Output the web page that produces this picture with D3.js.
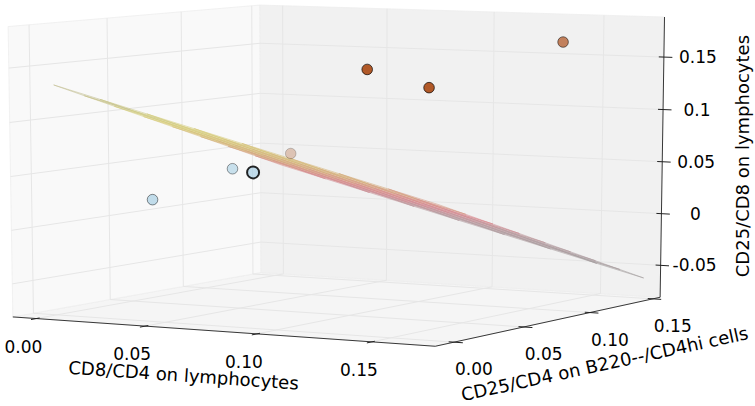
<!doctype html>
<html>
<head>
<meta charset="utf-8">
<title>3d regression</title>
<script src="https://cdn.jsdelivr.net/npm/d3@7"></script>
<style>
  body { margin: 0; background: #fff; }
  text { font-family: "DejaVu Sans", sans-serif; fill: #000; }
</style>
</head>
<body>
<script>
// one entry per sample
const cd8cd4 = [0.018, 0.032, 0.053, 0.009, 0.132, 0.153, 0.161];      // x
const cd25cd4 = [0.038, 0.072, 0.055, 0.148, 0.012, 0.021, 0.105];     // y
const cd25cd8 = [0.021, 0.045, 0.047, 0.043, 0.156, 0.140, 0.170];     // z
const group = [0, 0, 0, 1, 1, 1, 1];
const marked = [false, false, true, false, false, false, false];

// fitted plane z = a + b*x + c*y
const planeCoef = [0.1334, -0.5418, -0.6723];
const planeX = [0, 0.17];
const planeY = [0, 0.155];

const xLim = [-0.011, 0.177];
const yLim = [-0.013, 0.156];
const zLim = [-0.081, 0.188];
const xTicks = [0, 0.05, 0.10, 0.15];
const yTicks = [0, 0.05, 0.10, 0.15];
const zTicks = [-0.05, 0, 0.05, 0.1, 0.15];
const xTickLabels = ["0.00", "0.05", "0.10", "0.15"];
const yTickLabels = ["0.00", "0.05", "0.10", "0.15"];
const zTickLabels = ["-0.05", "0", "0.05", "0.1", "0.15"];

const w = 755, h = 406;
const svg = d3.select("body").append("svg").attr("width", w).attr("height", h);

// data -> box coords
const bx = d3.scaleLinear().domain(xLim).range([-0.5, 0.5]);
const by = d3.scaleLinear().domain(yLim).range([-0.5, 0.5]);
const bz = d3.scaleLinear().domain(zLim).range([-0.5, 0.5]);

// camera
const azim = -60 * Math.PI / 180, elev = 8 * Math.PI / 180, dist = 10;
const ca = Math.cos(azim), sa = Math.sin(azim), ce = Math.cos(elev), se = Math.sin(elev);
const sx = d3.scaleLinear().domain([-1, 1]).range([342.3 - 477, 342.3 + 477]);
const sy = d3.scaleLinear().domain([-1, 1]).range([165.3 + 288, 165.3 - 288]);

function project(x, y, z) {
  const u = bx(x), v = by(y), t = bz(z);
  const px = -sa * u + ca * v;
  const py = -se * ca * u - se * sa * v + ce * t;
  const pz = ce * ca * u + ce * sa * v + se * t;
  const k = dist / (dist - pz);
  return [sx(px * k), sy(py * k), pz];
}

const [x0, x1] = xLim, [y0, y1] = yLim, [z0, z1] = zLim;
const line = d3.line();

// panes
const panes = [
  { pts: [[x0, y0, z0], [x1, y0, z0], [x1, y1, z0], [x0, y1, z0]], fill: "#f5f5f5" },
  { pts: [[x0, y0, z0], [x0, y1, z0], [x0, y1, z1], [x0, y0, z1]], fill: "#f9f9f9" },
  { pts: [[x0, y1, z0], [x1, y1, z0], [x1, y1, z1], [x0, y1, z1]], fill: "#f1f1f1" }
];
svg.selectAll("path.pane").data(panes).enter().append("path")
  .attr("class", "pane")
  .attr("d", d => line(d.pts.map(p => project(...p))) + "Z")
  .attr("fill", d => d.fill)
  .attr("stroke", "#eeeeee")
  .attr("stroke-width", 0.8);

// gridlines
const grid = [];
xTicks.forEach(t => grid.push([[t, y0, z0], [t, y1, z0], [t, y1, z1]]));
yTicks.forEach(t => grid.push([[x1, t, z0], [x0, t, z0], [x0, t, z1]]));
zTicks.forEach(t => grid.push([[x0, y0, t], [x0, y1, t], [x1, y1, t]]));
svg.selectAll("path.grid").data(grid).enter().append("path")
  .attr("class", "grid")
  .attr("d", d => line(d.map(p => project(...p).slice(0, 2))))
  .attr("fill", "none")
  .attr("stroke", "#e6e6e6")
  .attr("stroke-width", 1);

// axis lines
const axes = [
  [[x0, y0, z0], [x1, y0, z0]],
  [[x1, y0, z0], [x1, y1, z0]],
  [[x1, y1, z0], [x1, y1, z1]]
];
svg.selectAll("path.axis").data(axes).enter().append("path")
  .attr("class", "axis")
  .attr("d", d => line(d.map(p => project(...p).slice(0, 2))))
  .attr("stroke", "#222")
  .attr("stroke-width", 0.9);

// tick marks
const du = (x1 - x0), dv = (y1 - y0);
const tickSegs = [];
xTicks.forEach(t => tickSegs.push([[t, y0 + 0.012 * dv, z0], [t, y0 - 0.02 * dv, z0]]));
yTicks.forEach(t => tickSegs.push([[x1 - 0.012 * du, t, z0], [x1 + 0.02 * du, t, z0]]));
zTicks.forEach(t => tickSegs.push([[x1 - 0.012 * du, y1, t], [x1 + 0.02 * du, y1, t]]));
svg.selectAll("path.tick").data(tickSegs).enter().append("path")
  .attr("class", "tick")
  .attr("d", d => line(d.map(p => project(...p).slice(0, 2))))
  .attr("stroke", "#222")
  .attr("stroke-width", 1);

// tick labels
const tickFont = 17;
svg.selectAll("text.xt").data(xTicks).enter().append("text")
  .attr("class", "xt")
  .attr("x", d => project(d, y0, z0)[0] - 13)
  .attr("y", d => project(d, y0, z0)[1] + 28)
  .attr("text-anchor", "middle").attr("dominant-baseline", "central")
  .style("font-size", tickFont + "px")
  .text((d, i) => xTickLabels[i]);
svg.selectAll("text.yt").data(yTicks).enter().append("text")
  .attr("class", "yt")
  .attr("x", d => project(x1, d, z0)[0] + 20)
  .attr("y", d => project(x1, d, z0)[1] + 27)
  .attr("text-anchor", "middle").attr("dominant-baseline", "central")
  .style("font-size", tickFont + "px")
  .text((d, i) => yTickLabels[i]);
svg.selectAll("text.zt").data(zTicks).enter().append("text")
  .attr("class", "zt")
  .attr("x", d => project(x1, y1, d)[0] + 34)
  .attr("y", d => project(x1, y1, d)[1])
  .attr("text-anchor", "middle").attr("dominant-baseline", "central")
  .style("font-size", tickFont + "px")
  .text((d, i) => zTickLabels[i]);

// axis titles
function angleOf(a, b) {
  const p = project(...a), q = project(...b);
  return Math.atan2(q[1] - p[1], q[0] - p[0]) * 180 / Math.PI;
}
const titleFont = 18;
const xm = project((x0 + x1) / 2, y0, z0);
svg.append("text")
  .attr("transform", `translate(${xm[0] - 35},${xm[1] + 44}) rotate(${angleOf([x0, y0, z0], [x1, y0, z0])})`)
  .attr("text-anchor", "middle").attr("dominant-baseline", "central")
  .style("font-size", titleFont + "px")
  .text("CD8/CD4 on lymphocytes");
const ym = project(x1, (y0 + y1) / 2, z0);
svg.append("text")
  .attr("transform", `translate(${ym[0] + 52},${ym[1] + 43}) rotate(${angleOf([x1, y0, z0], [x1, y1, z0])})`)
  .attr("text-anchor", "middle").attr("dominant-baseline", "central")
  .style("font-size", titleFont + "px")
  .text("CD25/CD4 on B220--/CD4hi cells");
const zm = project(x1, y1, (z0 + z1) / 2);
svg.append("text")
  .attr("transform", `translate(${zm[0] + 80},${zm[1] - 2}) rotate(-90)`)
  .attr("text-anchor", "middle").attr("dominant-baseline", "central")
  .style("font-size", titleFont + "px")
  .text("CD25/CD8 on lymphocytes");

// regression plane as a grid of facets
const n = 8;
const gx = d3.scaleLinear().domain([0, n]).range(planeX);
const gy = d3.scaleLinear().domain([0, n]).range(planeY);
const planeZ = (x, y) => planeCoef[0] + planeCoef[1] * x + planeCoef[2] * y;
const zLo = planeZ(planeX[1], planeY[1]), zHi = planeZ(planeX[0], planeY[0]);
const planeColor = d3.scaleLinear()
  .domain([0, 0.3, 0.45, 0.6, 0.8, 1].map(f => zLo + f * (zHi - zLo)))
  .range(["#9c9c9c", "#b89ca0", "#d9868e", "#d4ae7a", "#d8d27c", "#b8b59c"]);
const facets = [];
for (let i = 0; i < n; i++) {
  for (let j = 0; j < n; j++) {
    const cs = [[gx(i), gy(j)], [gx(i + 1), gy(j)], [gx(i + 1), gy(j + 1)], [gx(i), gy(j + 1)]];
    const pts = cs.map(c => project(c[0], c[1], planeZ(c[0], c[1])));
    facets.push({
      pts: pts.map(p => p.slice(0, 2)),
      depth: d3.mean(pts, p => p[2]),
      zc: d3.mean(cs, c => planeZ(c[0], c[1]))
    });
  }
}
facets.sort((a, b) => a.depth - b.depth);
svg.selectAll("path.facet").data(facets).enter().append("path")
  .attr("class", "facet")
  .attr("d", d => line(d.pts) + "Z")
  .attr("fill", d => planeColor(d.zc))
  .attr("fill-opacity", 0.15)
  .attr("stroke", d => planeColor(d.zc))
  .attr("stroke-opacity", 0.8)
  .attr("stroke-width", 0.7);

// points, with depth shading
const groupColor = d3.scaleOrdinal().domain([0, 1]).range(["#a6cee3", "#b15928"]);
const pts = cd8cd4.map((x, i) => {
  const p = project(x, cd25cd4[i], cd25cd8[i]);
  return { sx: p[0], sy: p[1], depth: p[2], g: group[i], m: marked[i] };
});
const shade = d3.scaleLinear().domain(d3.extent(pts, d => d.depth)).range([0.3, 1]);
pts.sort((a, b) => a.depth - b.depth);
svg.selectAll("circle.pt").data(pts).enter().append("circle")
  .attr("class", "pt")
  .attr("cx", d => d.sx)
  .attr("cy", d => d.sy)
  .attr("r", d => d.m ? 6 : 5.3)
  .attr("fill", d => groupColor(d.g))
  .attr("fill-opacity", d => shade(d.depth))
  .attr("stroke", "#000")
  .attr("stroke-opacity", d => d.m ? 0.85 : shade(d.depth) * 0.75)
  .attr("stroke-width", d => d.m ? 2 : 0.9);
</script>
</body>
</html>
